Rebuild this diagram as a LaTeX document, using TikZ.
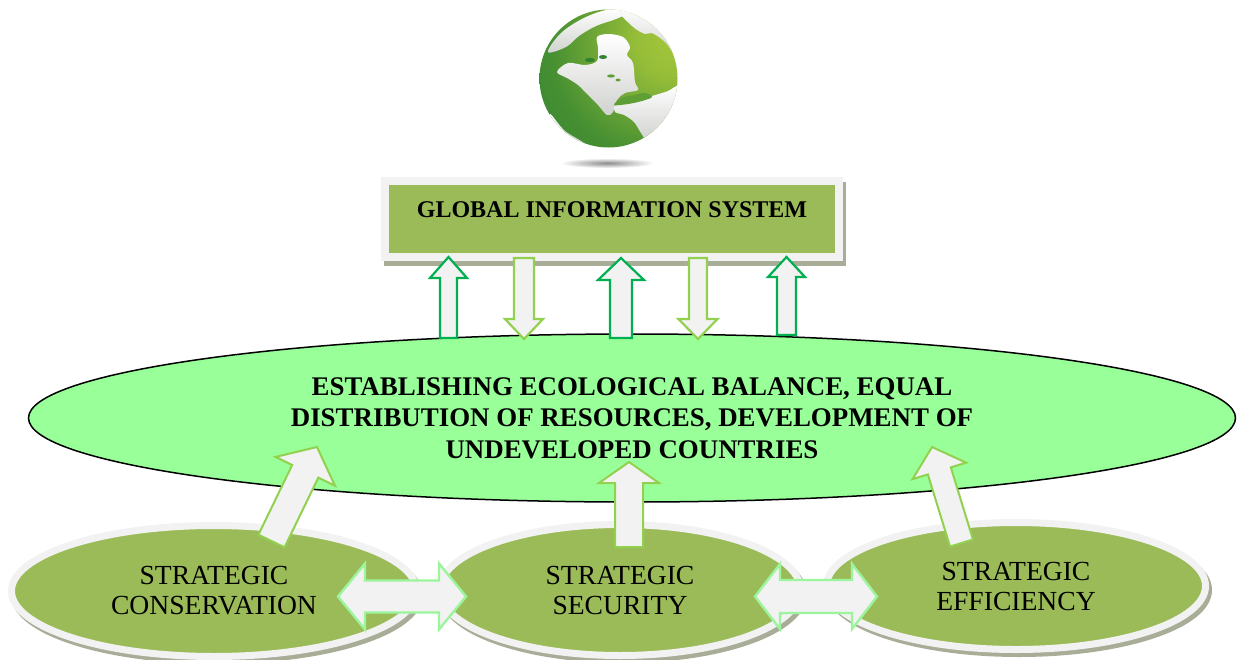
\documentclass[tikz,border=0pt]{standalone}
\usepackage{fontspec}
\setmainfont{Liberation Serif}
\usetikzlibrary{shapes.geometric,calc}

\definecolor{olivefill}{HTML}{9BBB59}
\definecolor{ringgray}{HTML}{F2F2F2}
\definecolor{shadowgray}{HTML}{A8AD97}
\definecolor{goalgreen}{HTML}{99FF99}
\definecolor{darkstroke}{HTML}{00B050}
\definecolor{lightstroke}{HTML}{92D050}
\definecolor{mintstroke}{HTML}{9CF59C}
\definecolor{globehi}{HTML}{A9C83A}
\definecolor{globemid}{HTML}{5E9E34}
\definecolor{globedark}{HTML}{2A7E30}
\definecolor{globeedge}{HTML}{1B6B2B}
\definecolor{landgray}{HTML}{D0D2CF}

\pgfdeclareradialshading{globeshade}{\pgfpoint{28bp}{17bp}}{%
  color(0bp)=(globehi); color(14bp)=(globehi!75!globemid);
  color(38bp)=(globemid!55!globedark); color(62bp)=(globedark);
  color(85bp)=(globeedge); color(100bp)=(globeedge)}

% block arrow: style, tail, tip, half shaft width, half head width, head length
\newcommand\blockarrow[6]{%
  \coordinate (ba-h) at ($(#3)!#6!(#2)$);
  \draw[#1] ($(#2)!#4!90:(#3)$) -- ($(ba-h)!#4!90:(#3)$) -- ($(ba-h)!#5!90:(#3)$)
    -- (#3) -- ($(ba-h)!#5!-90:(#3)$) -- ($(ba-h)!#4!-90:(#3)$)
    -- ($(#2)!#4!-90:(#3)$) -- cycle;
}
% two-headed block arrow: style, end A, end B, half shaft width, half head width, head length
\newcommand\doublearrow[6]{%
  \coordinate (da-a) at ($(#2)!#6!(#3)$);
  \coordinate (da-b) at ($(#3)!#6!(#2)$);
  \draw[#1] (#2) -- ($(da-a)!#5!90:(#3)$) -- ($(da-a)!#4!90:(#3)$)
    -- ($(da-b)!#4!-90:(#2)$) -- ($(da-b)!#5!-90:(#2)$) -- (#3)
    -- ($(da-b)!#5!90:(#2)$) -- ($(da-b)!#4!90:(#2)$)
    -- ($(da-a)!#4!-90:(#3)$) -- ($(da-a)!#5!-90:(#3)$) -- cycle;
}

\begin{document}
\begin{tikzpicture}[x=1pt,y=-1pt,
  gisbox/.style={rectangle, fill=olivefill, draw=ringgray, line width=7.5pt,
    minimum width=454pt, minimum height=76pt, inner sep=0pt, outer sep=0pt,
    preaction={draw=shadowgray, fill=shadowgray, line width=7.5pt,
      transform canvas={xshift=3pt,yshift=-5pt}}},
  gistitle/.style={font=\fontsize{24}{28}\selectfont\bfseries, inner sep=0pt},
  goalell/.style={ellipse, fill=goalgreen, draw=black, line width=1.5pt,
    minimum width=1207pt, minimum height=168pt, inner sep=0pt, outer sep=0pt,
    align=center, font=\fontsize{26.9}{31.5}\selectfont\bfseries},
  stratell/.style={ellipse, fill=olivefill, draw=ringgray, line width=7pt,
    inner sep=0pt, outer sep=0pt, align=center,
    font=\fontsize{27.6}{30}\selectfont,
    preaction={draw=shadowgray, fill=shadowgray, line width=7pt,
      transform canvas={xshift=3pt,yshift=-4pt}}},
  land/.style={top color=white, bottom color=landgray},
  uparrow/.style={fill=ringgray, draw=darkstroke, line width=2.2pt},
  downarrow/.style={fill=ringgray, draw=lightstroke, line width=2.2pt},
  feedarrow/.style={fill=ringgray, draw=lightstroke, line width=2pt},
  linkarrow/.style={fill=ringgray, draw=mintstroke, line width=2.4pt},
]
\useasboundingbox (0,0) rectangle (1237,659);

% ---- globe ----
\coordinate (globe) at (608.5,78.5);
\shade[inner color=black!45, outer color=white] (607,163) ellipse [x radius=47pt, y radius=5pt];
\shade[shading=globeshade] (globe) circle [radius=69pt];
\begin{scope}
  \clip (globe) circle [radius=69pt];
  % light polar rim, upper left
  \shade[land] plot[smooth cycle, tension=0.6] coordinates {(548,52) (560,34) (580,20)
    (602,11) (622,8) (634,10) (616,19) (596,26) (579,36) (566,47)};
  % light rim, upper right, round Greenland
  \shade[land] plot[smooth cycle, tension=0.6] coordinates {(618,9) (642,10) (662,22)
    (674,36) (680,56) (674,54) (665,42) (652,33) (645,34) (632,26)};
  % central light region with the bay
  \shade[land] plot[smooth cycle, tension=0.55] coordinates {(557,72) (568,63) (585,65)
    (597,61) (598,48) (597,37) (608,34) (623,37) (630,47) (627,55) (633,63) (635,82)
    (638,90) (625,93) (617,100) (613,112) (607,115) (598,105) (588,95) (578,85) (567,78)};
  % islands and lakes inside it
  \fill[globedark!85!globemid] (590,60) ellipse [x radius=5pt, y radius=2.2pt];
  \fill[globedark!85!globemid] (603,57) ellipse [x radius=4pt, y radius=2pt];
  \fill[globemid] (611,76) ellipse [x radius=4pt, y radius=1.6pt];
  \fill[globemid] (618,80) ellipse [x radius=2.5pt, y radius=1.4pt];
  % light region, lower right
  \shade[land] plot[smooth cycle, tension=0.55] coordinates {(616,105) (635,101) (652,96)
    (668,91) (679,86) (680,105) (674,122) (663,135) (648,141) (641,133) (634,122)
    (624,115) (615,112)};
  % island chain across it
  \fill[globemid] plot[smooth cycle, tension=0.6] coordinates {(614,105) (622,98) (635,95)
    (645,93) (652,97) (642,101) (628,104)};
  % light rim, lower left
  \shade[land] plot[smooth cycle, tension=0.6] coordinates {(550,114) (565,131) (585,144)
    (576,148) (558,136)};
\end{scope}

% ---- global information system ----
\node[gisbox] (gis) at (612,219) {};
\node[gistitle] (gistext) at ($(gis.center)+(0,-9)$) {GLOBAL INFORMATION SYSTEM};

% ---- aim ----
\node[goalell] (goal) at (632,418)
  {ESTABLISHING ECOLOGICAL BALANCE, EQUAL\\
   DISTRIBUTION OF RESOURCES, DEVELOPMENT OF\\
   UNDEVELOPED COUNTRIES};

% ---- strategies ----
\node[stratell, minimum width=405pt, minimum height=131pt] (cons) at (214,591)
  {STRATEGIC\\CONSERVATION};
\node[stratell, minimum width=361pt, minimum height=131pt] (secu) at (620,590)
  {STRATEGIC\\SECURITY};
\node[stratell, minimum width=379pt, minimum height=127pt] (effi) at (1016,586)
  {STRATEGIC\\EFFICIENCY};

% ---- exchange with the information system ----
\coordinate (u1a) at (448.5,338); \coordinate (u1b) at (448.5,257);
\coordinate (d1a) at (524,258);   \coordinate (d1b) at (524,339);
\coordinate (u2a) at (621,338);   \coordinate (u2b) at (621,258);
\coordinate (d2a) at (698,258);   \coordinate (d2b) at (698,339);
\coordinate (u3a) at (786.5,335); \coordinate (u3b) at (786.5,257);
\blockarrow{uparrow}{u1a}{u1b}{8.5pt}{18.5pt}{21pt}
\blockarrow{downarrow}{d1a}{d1b}{10pt}{19pt}{20pt}
\blockarrow{uparrow}{u2a}{u2b}{11pt}{23pt}{22pt}
\blockarrow{downarrow}{d2a}{d2b}{9pt}{19.5pt}{20pt}
\blockarrow{uparrow}{u3a}{u3b}{9.5pt}{18.5pt}{20pt}

% ---- strategies feeding the aim ----
\coordinate (f1a) at (271.5,541); \coordinate (f1b) at (317,447);
\coordinate (f2a) at (629,547);   \coordinate (f2b) at (629,462);
\coordinate (f3a) at (961.5,543); \coordinate (f3b) at (932,447);
\blockarrow{feedarrow}{f1a}{f1b}{14.5pt}{33pt}{27pt}
\blockarrow{feedarrow}{f2a}{f2b}{14pt}{30pt}{21pt}
\blockarrow{feedarrow}{f3a}{f3b}{12pt}{28pt}{25pt}

% ---- links between strategies ----
\coordinate (l1a) at (338,596.5); \coordinate (l1b) at (466,596.5);
\coordinate (l2a) at (755,596.5); \coordinate (l2b) at (877,596.5);
\doublearrow{linkarrow}{l1a}{l1b}{16pt}{33pt}{27pt}
\doublearrow{linkarrow}{l2a}{l2b}{16.5pt}{32.5pt}{25pt}
\end{tikzpicture}
\end{document}
